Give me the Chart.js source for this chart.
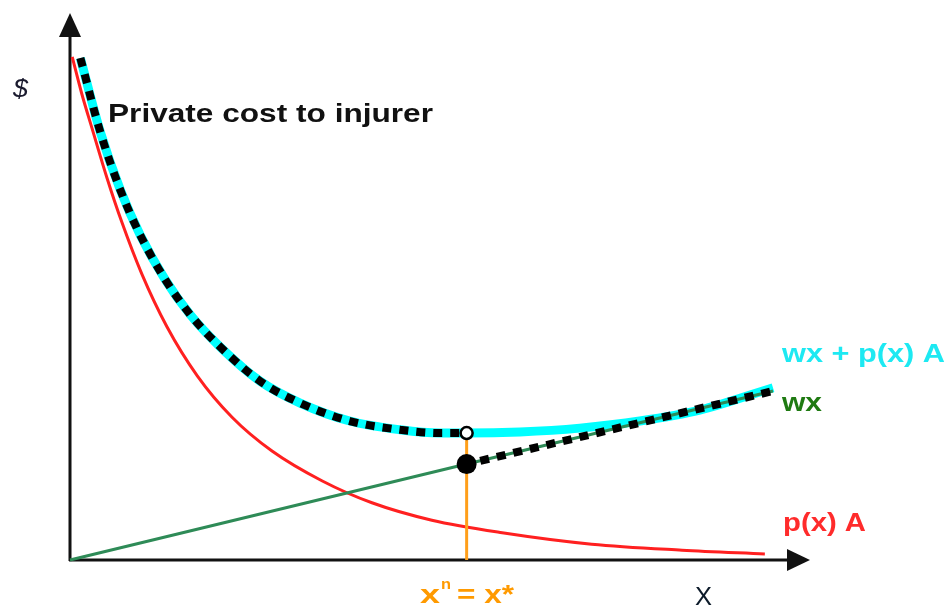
<!DOCTYPE html>
<html>
<head>
<meta charset="utf-8">
<script src="https://cdn.jsdelivr.net/npm/chart.js@4.4.0/dist/chart.umd.min.js"></script>
<style>
  body { margin: 0; background: #fff; }
  canvas { display: block; }
</style>
</head>
<body>
<canvas id="grafico" width="950" height="607"></canvas>
<script>
  // Curva p(x) A (vermelha)
  const xRed = [0.03, 0.16, 0.30, 0.50, 0.70, 0.97, 1.31, 1.72, 2.19, 2.73, 3.41, 4.08, 4.89, 5.84, 7.05, 8.27, 9.39];
  const yRed = [9.23, 8.55, 7.91, 7.01, 6.20, 5.25, 4.28, 3.38, 2.62, 2.00, 1.45, 1.05, 0.73, 0.50, 0.29, 0.18, 0.11];

  // Curva wx + p(x) A (ciano)
  const xTotal = [0.14, 0.41, 0.68, 0.95, 1.28, 1.62, 2.03, 2.57, 3.11, 3.78, 4.46, 5.0, 5.36, 6.08, 6.89, 7.70, 8.51, 9.5];
  const yTotal = [9.21, 7.85, 6.79, 5.96, 5.16, 4.51, 3.91, 3.28, 2.88, 2.55, 2.39, 2.33, 2.33, 2.35, 2.42, 2.55, 2.75, 3.16];

  // Reta wx (verde)
  const xWx = [0, 5.36, 9.5];
  const yWx = [0, 1.76, 3.1];

  // Ponto x* (onde o custo privado troca de curva)
  const xStar = 5.36;

  const pontos = (xs, ys) => xs.map((x, i) => ({ x: x, y: ys[i] }));
  const total = pontos(xTotal, yTotal);
  const wx = pontos(xWx, yWx);
  const yTotalStar = yTotal[xTotal.indexOf(xStar)];
  const yWxStar = yWx[xWx.indexOf(xStar)];

  // Custo privado: ciano ate x*, depois a reta wx
  const privado1 = total.filter(p => p.x <= xStar);
  const privado2 = wx.filter(p => p.x >= xStar);

  function texto(ctx, str, x, y, font, cor, largura) {
    ctx.save();
    ctx.font = font;
    ctx.fillStyle = cor;
    ctx.textBaseline = 'alphabetic';
    const w = ctx.measureText(str).width;
    ctx.translate(x, y);
    ctx.scale(largura ? largura / w : 1, 1);
    ctx.fillText(str, 0, 0);
    ctx.restore();
  }

  // Eixos com setas
  const eixos = {
    id: 'eixos',
    beforeDatasetsDraw(chart) {
      const ctx = chart.ctx;
      const a = chart.chartArea;
      const x0 = chart.scales.x.getPixelForValue(0);
      const y0 = chart.scales.y.getPixelForValue(0);
      ctx.save();
      ctx.strokeStyle = '#111';
      ctx.fillStyle = '#111';
      ctx.lineWidth = 3;
      ctx.beginPath();
      ctx.moveTo(x0, y0 + 1);
      ctx.lineTo(x0, a.top + 20);
      ctx.moveTo(x0 - 1, y0);
      ctx.lineTo(a.right - 20, y0);
      ctx.stroke();
      ctx.beginPath();
      ctx.moveTo(x0, a.top - 2);
      ctx.lineTo(x0 - 11, a.top + 22);
      ctx.lineTo(x0 + 11, a.top + 22);
      ctx.closePath();
      ctx.fill();
      ctx.beginPath();
      ctx.moveTo(a.right, y0);
      ctx.lineTo(a.right - 23, y0 - 11);
      ctx.lineTo(a.right - 23, y0 + 11);
      ctx.closePath();
      ctx.fill();
      ctx.restore();
    },
    afterDraw(chart) {
      const ctx = chart.ctx;
      const fonte = '"Liberation Sans", Arial, sans-serif';
      texto(ctx, '$', 13, 97, 'italic 26px ' + fonte, '#1a1a2e', 15);
      texto(ctx, 'Private cost to injurer', 108, 122, 'bold 25px ' + fonte, '#111', 325);
      texto(ctx, 'wx + p(x) A', 782, 362, 'bold 26px ' + fonte, '#1de9f2', 163);
      texto(ctx, 'wx', 782, 411, 'bold 26px ' + fonte, '#1f7a12', 40);
      texto(ctx, 'p(x) A', 783, 531, 'bold 25px ' + fonte, '#ff2b2b', 83);
      // x^n = x*
      texto(ctx, 'x', 420, 603, 'bold 25px ' + fonte, '#ff9a00', 20);
      texto(ctx, 'n', 441, 589, 'bold 15px ' + fonte, '#ff9a00', 10);
      texto(ctx, '= x*', 457, 603, 'bold 25px ' + fonte, '#ff9a00', 57);
      texto(ctx, 'X', 695, 605, '25px ' + fonte, '#0d1b2a', 17);
    }
  };

  const ctx = document.getElementById('grafico').getContext('2d');
  new Chart(ctx, {
    type: 'line',
    data: {
      datasets: [
        { data: total, borderColor: '#00ffff', borderWidth: 9, order: 6, cubicInterpolationMode: 'monotone' },
        { data: pontos(xRed, yRed), borderColor: '#ff2020', borderWidth: 3, order: 5, cubicInterpolationMode: 'monotone' },
        { data: wx, borderColor: '#2e8b57', borderWidth: 3, order: 4 },
        { data: [{ x: xStar, y: 0 }, { x: xStar, y: yTotalStar }], borderColor: '#ff9f1a', borderWidth: 3, order: 3 },
        { data: privado1, borderColor: '#000', borderWidth: 8, borderDash: [9, 8], order: 2, cubicInterpolationMode: 'monotone' },
        { data: privado2, borderColor: '#000', borderWidth: 8, borderDash: [9, 8], borderDashOffset: -14, order: 2 },
        { data: [{ x: xStar, y: yTotalStar }], showLine: false, pointRadius: 6, pointBackgroundColor: '#fff', pointBorderColor: '#000', pointBorderWidth: 2.5, order: 1 },
        { data: [{ x: xStar, y: yWxStar }], showLine: false, pointRadius: 10, pointBackgroundColor: '#000', pointBorderColor: '#000', pointBorderWidth: 0, order: 0 }
      ]
    },
    options: {
      responsive: false,
      animation: false,
      devicePixelRatio: 1,
      layout: { padding: { left: 70, right: 140, top: 15, bottom: 47 } },
      elements: { point: { radius: 0, hoverRadius: 0 }, line: { fill: false, borderCapStyle: 'butt' } },
      datasets: { line: { clip: false } },
      scales: {
        x: { type: 'linear', min: 0, max: 10, display: false },
        y: { type: 'linear', min: 0, max: 10, display: false }
      },
      plugins: {
        legend: { display: false },
        tooltip: { enabled: false }
      }
    },
    plugins: [eixos]
  });
</script>
</body>
</html>
